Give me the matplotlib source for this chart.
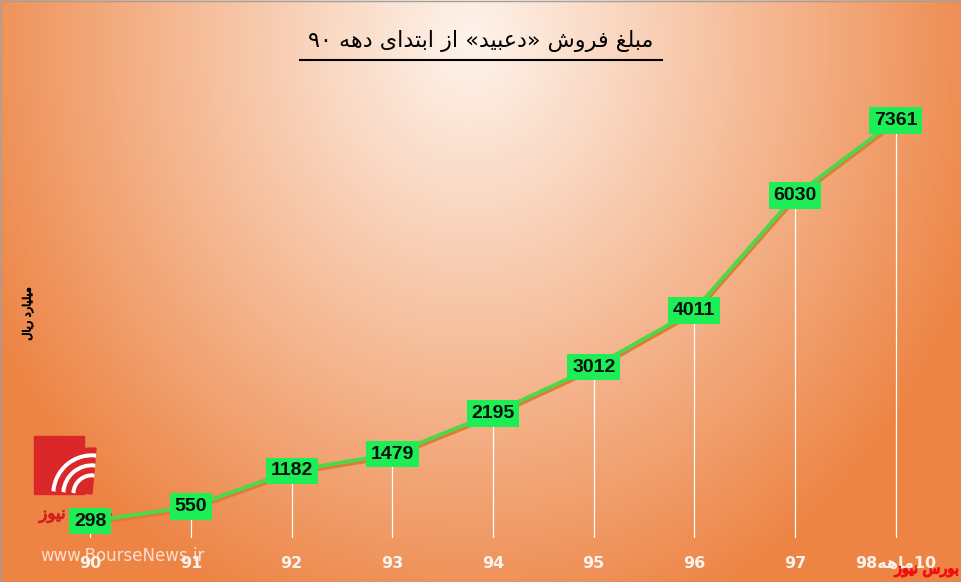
import numpy as np
import matplotlib
matplotlib.use("Agg")
import matplotlib.pyplot as plt
import matplotlib.patheffects as pe
from matplotlib.patches import Rectangle, Wedge
from matplotlib.lines import Line2D

# ── داده‌ها ────────────────────────────────────────────────────────────────
# متن فارسی به صورت دیداری (حروف پیوسته، ترتیب چپ به راست) نوشته شده است
categories = ["90", "91", "92", "93", "94", "95", "96", "97",
              "98\uFEEA\uFEEB\uFE8E\uFEE310"]          # 10ماهه98
values = [298, 550, 1182, 1479, 2195, 3012, 4011, 6030, 7361]

title_text = ("\u06F9\u06F0 \uFEEA\uFEEB\uFEA9 \uFBFC\uFE8D\uFEAA\uFE98\uFE91\uFE8D "
              "\uFEAF\uFE8D \u00AB\uFEAA\uFBFF\uFE92\uFECB\uFEA9\u00BB "
              "\uFEB5\uFEED\uFEAE\uFED3 \uFECE\uFEE0\uFE92\uFEE3")   # مبلغ فروش «دعبید» از ابتدای دهه ۹۰
ylabel_text = "\uFEDD\uFE8E\uFBFE\uFEAD \uFEA9\uFEAD\uFE8E\uFBFF\uFEE0\uFBFF\uFEE3"  # میلیارد ریال
brand_text = "\uFEAF\uFEEE\uFBFF\uFEE7 \uFEB1\uFEAD\uFEEE\uFE91"                      # بورس نیوز
site_text = "www.BourseNews.ir"

W, H = 962, 582
fig = plt.figure(figsize=(W / 100, H / 100), dpi=100)


def thick(color, w=0.8):
    # نسخه معمولی DejaVu حروف فارسی دارد، ضخامت با خط دور شبیه‌سازی می‌شود
    return [pe.withStroke(linewidth=w, foreground=color)]


# ── پس‌زمینه شعاعی ───────────────────────────────────────────────────────
bg = fig.add_axes([0, 0, 1, 1], zorder=-1)
yy, xx = np.mgrid[0:H, 0:W]
d = np.sqrt(((xx - 470) / 540.0) ** 2 + ((yy - 40) / 620.0) ** 2)
t = np.clip(d, 0, 1)[..., None] ** 1.05
c0 = np.array([254, 243, 235]) / 255
c1 = np.array([237, 132, 68]) / 255
img = c0 * (1 - t) + c1 * t
bg.imshow(img, aspect="auto", extent=[0, W, H, 0])
bg.set_xlim(0, W)
bg.set_ylim(H, 0)
bg.axis("off")

# لوگو
red = "#D9272A"
bg.add_patch(Rectangle((34, 436), 50, 58, color=red, zorder=2))
for r in [40, 30, 20]:
    bg.add_patch(Wedge((92, 494), r + 6, 185, 275, width=6, color=red, zorder=3))
    bg.add_patch(Wedge((92, 494), r, 185, 275, width=4, color="white", zorder=3))
bg.add_patch(Wedge((92, 494), 16, 185, 275, color=red, zorder=3))
bg.text(76, 514, brand_text, color="#D42020", fontsize=12,
        ha="center", va="center", zorder=4, path_effects=thick("#D42020"))
bg.text(122, 556, site_text, color="white", alpha=0.75, fontsize=12,
        ha="center", va="center", zorder=4)
bg.add_patch(Rectangle((0.5, 0.5), W - 1, H - 1, fill=False, ec="#A0A0A0", lw=1, zorder=5))

# ── نمودار ──────────────────────────────────────────────────────────────
ax = fig.add_axes([40 / W, 1 - 538 / H, 906 / W, 454 / H])
ax.patch.set_alpha(0)
x = np.arange(len(values))

ax.vlines(x, 0, values, color="white", lw=0.9, zorder=1)
ax.plot(x, values, color="#4CD84A", lw=2.8, zorder=2, solid_capstyle="round",
        path_effects=[pe.SimpleLineShadow(offset=(0.6, -1.8), shadow_color="#E07A36",
                                          alpha=1, rho=1), pe.Normal()])

for xi, v in zip(x, values):
    ax.text(xi, v, str(v), ha="center", va="center", fontsize=14, fontweight="bold",
            family=["Liberation Sans", "DejaVu Sans"], color="#101010", zorder=5,
            bbox=dict(boxstyle="square,pad=0.25", fc="#1DEE55", ec="none"))

ax.set_xlim(-0.5, len(values) - 0.5)
ax.set_ylim(0, 8000)
ax.set_xticks(x)
ax.set_xticklabels(categories, fontsize=11.5, fontweight="bold", color="#FBF3EE")
ax.tick_params(axis="x", length=0, pad=13)
ax.set_yticks([])
for s in ax.spines.values():
    s.set_visible(False)

# عنوان و خط زیر آن
fig.text(481 / W, 1 - 41 / H, title_text, ha="center", va="center", fontsize=16,
         color="black")
fig.add_artist(Line2D([300 / W, 662 / W], [1 - 60 / H, 1 - 60 / H], color="black",
                      lw=1.5, transform=fig.transFigure))

# برچسب محور عمودی
fig.text(28 / W, 1 - 314 / H, ylabel_text, rotation=90, ha="center", va="center",
         fontsize=8, color="black", path_effects=thick("black", 0.6))

# نشان پایین راست
fig.text(927 / W, 1 - 569 / H, brand_text, ha="center", va="center", fontsize=10.5,
         color="#F01010", path_effects=thick("#F01010", 1.0))

fig.savefig("out.png", dpi=100)
